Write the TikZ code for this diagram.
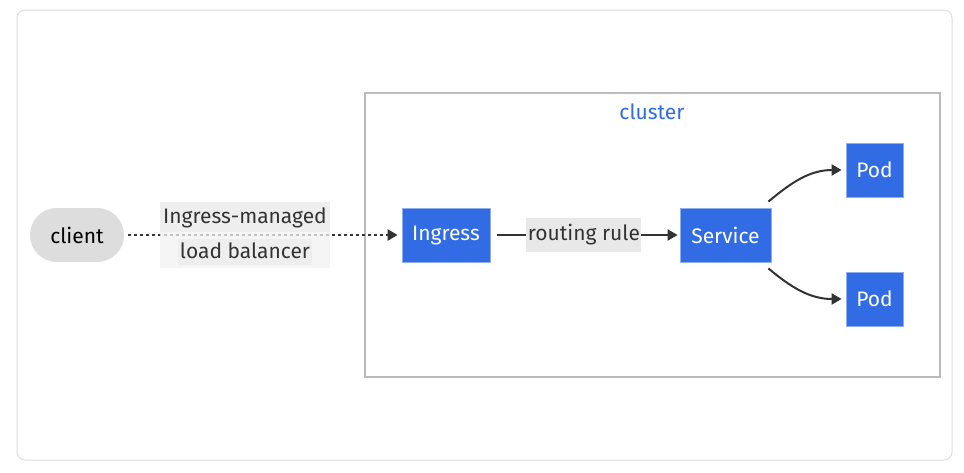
\documentclass[tikz,border=0pt]{standalone}
\usepackage{fontspec}
\setmainfont{Fira Sans}
\usetikzlibrary{arrows.meta,shapes.misc}
\definecolor{k8sblue}{HTML}{326CE5}
\definecolor{ink}{HTML}{333333}
\definecolor{frame}{HTML}{DDDDDD}
\definecolor{clusterline}{HTML}{BBBBBB}
\definecolor{clientgray}{HTML}{DDDDDD}
\definecolor{lblouter}{HTML}{F2F2F2}
\definecolor{lblinner}{HTML}{E8E8E8}
\begin{document}
\begin{tikzpicture}[x=1pt,y=-1pt,
  font=\fontsize{21}{24}\selectfont,
  svc/.style={fill=k8sblue, draw=k8sblue!55!white, line width=0.8pt, text=white,
    minimum height=54, inner sep=0pt},
  conn/.style={draw=ink, line width=2pt, -{Triangle[length=10pt,width=11pt]}},
  lbl/.style={text=ink, inner sep=0pt}]
\useasboundingbox (0,0) rectangle (964,472);
% outer frame
\draw[rounded corners=8pt, draw=frame, line width=1pt, fill=white] (17,10) rectangle (952,460);
% cluster boundary
\draw[draw=clusterline, line width=2.5pt] (365,93) rectangle (940,377);
\node[text=k8sblue, inner sep=0pt] (clabel) at (652,112) {cluster};
% nodes
\node[fill=clientgray, rounded rectangle, minimum width=94, minimum height=54, inner sep=0pt, text=black] (client) at (77,235) {client};
\node[svc, minimum width=88] (ingress) at (446,235) {Ingress};
\node[svc, minimum width=91] (service) at (725.5,235) {Service};
\node[svc, minimum width=57] (pod1) at (874.5,170) {Pod};
\node[svc, minimum width=57] (pod2) at (874.5,299) {Pod};
% client -> ingress (dotted)
\draw[conn, line width=2.6pt, dash pattern=on 3pt off 3pt] ([xshift=4]client.east) -- ([xshift=-4]ingress.west);
% label over the dotted edge
\fill[lblouter, fill opacity=0.75] (160,202) rectangle (330,268);
\fill[lblinner, fill opacity=0.5] (160,202) rectangle (330,232);
\fill[lblinner, fill opacity=0.5] (178,239) rectangle (312,265);
\node[lbl] (lb1) at (245,218) {Ingress-managed};
\node[lbl] (lb2) at (245,251) {load balancer};
% ingress -> service
\draw[conn] ([xshift=7]ingress.east) -- ([xshift=-2]service.west)
  node[pos=0.48, fill=lblinner, text=ink, inner sep=0pt, minimum width=115, minimum height=34] (rr) {routing rule};
% service -> pods
\draw[conn] ([shift={(-3,-6)}]service.north east) to[out=40,in=180] ([xshift=-4]pod1.west);
\draw[conn] ([shift={(-3,6)}]service.south east) to[out=-40,in=180] ([xshift=-4]pod2.west);
\end{tikzpicture}
\end{document}
